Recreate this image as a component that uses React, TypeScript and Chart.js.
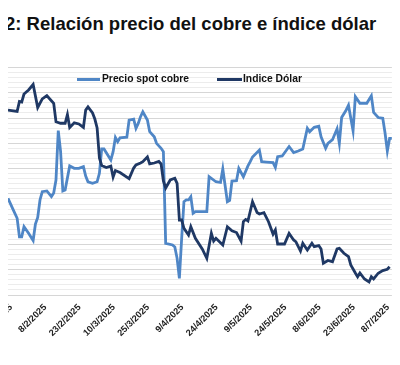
import React, { useEffect, useRef } from "react";
import { Chart, registerables } from "chart.js";

Chart.register(...registerables);

const TITLE = "2: Relación precio del cobre e índice dólar";
const SERIES_NAMES = ["Precio spot cobre", "Indice Dólar"];
const SERIES_COLORS = ["#4f86c6", "#1f3864"];

// date axis: first date, last date and label step (days)
const AXIS_START = "2025-01-24";
const AXIS_END = "2025-07-11";
const TICK_STEP_DAYS = 15;

// copper axis (hidden) and dollar axis (hidden)
const COPPER_AXIS = { min: 8200, max: 10000, major: 200 };
const DOLLAR_AXIS = { min: 96, max: 112.2 };

const COPPER_DATES = [
  "2025-01-24", "2025-01-26", "2025-01-28", "2025-01-29", "2025-01-30", "2025-01-31", "2025-02-02", "2025-02-04", "2025-02-05", "2025-02-06",
  "2025-02-07", "2025-02-08", "2025-02-10", "2025-02-12", "2025-02-13", "2025-02-14", "2025-02-15", "2025-02-16", "2025-02-17", "2025-02-18",
  "2025-02-20", "2025-02-22", "2025-02-24", "2025-02-26", "2025-02-27", "2025-02-28", "2025-03-02", "2025-03-04", "2025-03-05", "2025-03-06",
  "2025-03-07", "2025-03-10", "2025-03-11", "2025-03-12", "2025-03-13", "2025-03-14", "2025-03-17", "2025-03-18", "2025-03-20", "2025-03-21",
  "2025-03-22", "2025-03-23", "2025-03-24", "2025-03-26", "2025-03-27", "2025-03-29", "2025-03-30", "2025-04-01", "2025-04-02", "2025-04-03",
  "2025-04-06", "2025-04-07", "2025-04-08", "2025-04-09", "2025-04-10", "2025-04-11", "2025-04-12", "2025-04-13", "2025-04-14", "2025-04-15",
  "2025-04-16", "2025-04-19", "2025-04-21", "2025-04-22", "2025-04-25", "2025-04-27", "2025-04-28", "2025-04-30", "2025-05-01", "2025-05-02",
  "2025-05-04", "2025-05-05", "2025-05-07", "2025-05-09", "2025-05-10", "2025-05-11", "2025-05-14", "2025-05-15", "2025-05-17", "2025-05-20",
  "2025-05-21", "2025-05-22", "2025-05-24", "2025-05-27", "2025-05-29", "2025-05-31", "2025-06-02", "2025-06-04", "2025-06-05", "2025-06-07",
  "2025-06-09", "2025-06-10", "2025-06-12", "2025-06-13", "2025-06-15", "2025-06-17", "2025-06-18", "2025-06-19", "2025-06-21", "2025-06-22",
  "2025-06-24", "2025-06-25", "2025-06-27", "2025-06-30", "2025-07-02", "2025-07-03", "2025-07-05", "2025-07-07", "2025-07-08", "2025-07-09",
  "2025-07-10", "2025-07-11",
];
const COPPER = [
  8965, 8886, 8807, 8661, 8661, 8740, 8688, 8631, 8762, 8813,
  8952, 9017, 9023, 8978, 9007, 9110, 9501, 9339, 9023, 9031,
  9221, 9202, 9202, 9215, 9141, 9096, 9084, 9096, 9163, 9355,
  9355, 9268, 9334, 9446, 9413, 9444, 9448, 9584, 9592, 9519,
  9558, 9611, 9650, 9584, 9492, 9452, 9400, 9361, 9334, 8609,
  8596, 8580, 8490, 8332, 8649, 8938, 8952, 8952, 8978, 8846,
  8859, 8859, 8859, 9136, 9096, 9090, 9197, 8938, 8948, 9102,
  9104, 9202, 9136, 9221, 9255, 9292, 9347, 9255, 9252, 9248,
  9210, 9294, 9300, 9375, 9327, 9339, 9355, 9519, 9492, 9527,
  9535, 9452, 9361, 9400, 9429, 9515, 9400, 9604, 9664, 9701,
  9499, 9769, 9717, 9717, 9776, 9644, 9604, 9598, 9482, 9339,
  9440, 9440,
];

const DOLLAR_DATES = [
  "2025-01-24", "2025-01-28", "2025-01-29", "2025-01-30", "2025-01-31", "2025-02-02", "2025-02-04", "2025-02-06", "2025-02-08", "2025-02-10",
  "2025-02-11", "2025-02-13", "2025-02-14", "2025-02-16", "2025-02-18", "2025-02-19", "2025-02-20", "2025-02-22", "2025-02-24", "2025-02-26",
  "2025-02-27", "2025-02-28", "2025-03-02", "2025-03-03", "2025-03-04", "2025-03-05", "2025-03-06", "2025-03-08", "2025-03-10", "2025-03-11",
  "2025-03-12", "2025-03-14", "2025-03-18", "2025-03-20", "2025-03-21", "2025-03-23", "2025-03-24", "2025-03-26", "2025-03-27", "2025-03-29",
  "2025-03-31", "2025-04-01", "2025-04-02", "2025-04-03", "2025-04-05", "2025-04-07", "2025-04-08", "2025-04-09", "2025-04-10", "2025-04-11",
  "2025-04-13", "2025-04-14", "2025-04-16", "2025-04-19", "2025-04-21", "2025-04-23", "2025-04-24", "2025-04-25", "2025-04-28", "2025-04-30",
  "2025-05-02", "2025-05-04", "2025-05-06", "2025-05-07", "2025-05-08", "2025-05-09", "2025-05-11", "2025-05-13", "2025-05-14", "2025-05-16",
  "2025-05-18", "2025-05-20", "2025-05-21", "2025-05-22", "2025-05-25", "2025-05-27", "2025-05-29", "2025-05-30", "2025-06-01", "2025-06-02",
  "2025-06-04", "2025-06-06", "2025-06-07", "2025-06-09", "2025-06-10", "2025-06-11", "2025-06-13", "2025-06-15", "2025-06-17", "2025-06-18",
  "2025-06-20", "2025-06-22", "2025-06-23", "2025-06-25", "2025-06-26", "2025-06-27", "2025-06-29", "2025-07-01", "2025-07-02", "2025-07-03",
  "2025-07-05", "2025-07-07", "2025-07-09", "2025-07-10",
];
const DOLLAR = [
  109.17, 109.07, 109.78, 109.74, 110.31, 110.6, 110.99, 109.35, 109.96, 110.2,
  110.01, 109.65, 108.34, 108.23, 108.23, 108.85, 107.93, 108.26, 108.18, 107.93,
  109.17, 109.39, 108.96, 108.53, 107.89, 105.75, 105.22, 105.08, 105.18, 104.4,
  104.86, 104.72, 104.29, 105.04, 105.26, 105.4, 105.49, 105.83, 105.33, 105.4,
  105.51, 105.33, 104.12, 103.62, 104.19, 104.31, 103.95, 101.34, 101.34, 100.75,
  100.27, 100.86, 100.04, 99.28, 98.61, 100.39, 99.84, 100.04, 99.56, 100.86,
  100.57, 100.45, 99.84, 101.23, 101.38, 101.27, 102.64, 101.87, 101.77, 101.87,
  101.22, 100.34, 100.63, 99.63, 99.63, 100.39, 99.92, 99.79, 99.13, 99.68,
  99.2, 99.68, 99.44, 99.52, 99.28, 98.26, 98.46, 98.37, 99.28, 99.33,
  98.97, 98.73, 98.14, 97.57, 97.3, 97.57, 97.14, 96.93, 97.3, 97.14,
  97.55, 97.74, 97.83, 98.01,
];

const DAY_MS = 86400000;
const utc = (s: string) => {
  const [y, m, d] = s.split("-").map(Number);
  return Date.UTC(y, m - 1, d);
};
const START_MS = utc(AXIS_START);
const toDay = (s: string) => Math.round((utc(s) - START_MS) / DAY_MS);
const dayLabel = (v: number) => {
  const dt = new Date(START_MS + v * DAY_MS);
  return `${dt.getUTCDate()}/${dt.getUTCMonth() + 1}/${dt.getUTCFullYear()}`;
};

const FONT = "'Liberation Sans', Arial, sans-serif";

export default function App() {
  const ref = useRef<HTMLCanvasElement | null>(null);

  useEffect(() => {
    if (!ref.current) return;
    const chart = new Chart(ref.current, {
      type: "line",
      data: {
        datasets: [
          {
            label: SERIES_NAMES[0],
            data: COPPER_DATES.map((d, i) => ({ x: toDay(d), y: COPPER[i] })),
            borderColor: SERIES_COLORS[0],
            backgroundColor: SERIES_COLORS[0],
            borderWidth: 2.8,
            pointRadius: 0,
            tension: 0,
            yAxisID: "y",
            order: 1,
          },
          {
            label: SERIES_NAMES[1],
            data: DOLLAR_DATES.map((d, i) => ({ x: toDay(d), y: DOLLAR[i] })),
            borderColor: SERIES_COLORS[1],
            backgroundColor: SERIES_COLORS[1],
            borderWidth: 2.8,
            pointRadius: 0,
            tension: 0,
            yAxisID: "y1",
            order: 0,
          },
        ],
      },
      options: {
        responsive: false,
        animation: false,
        events: [],
        layout: { padding: { top: 17.5, right: 8, bottom: 0, left: 0 } },
        plugins: {
          legend: { display: false },
          title: { display: false },
          tooltip: { enabled: false },
        },
        scales: {
          x: {
            type: "linear",
            min: 0,
            max: toDay(AXIS_END),
            grid: { display: false, drawTicks: false },
            border: { display: false },
            ticks: {
              stepSize: TICK_STEP_DAYS,
              includeBounds: false,
              autoSkip: false,
              minRotation: 45,
              maxRotation: 45,
              padding: 7,
              labelOffset: 3,
              color: "#222",
              font: { family: FONT, size: 9.2, weight: "bold" },
              callback: (v) => dayLabel(Number(v)),
            },
            afterFit: (s: any) => {
              s.height = 62;
            },
          },
          y: {
            position: "left",
            min: COPPER_AXIS.min,
            max: COPPER_AXIS.max,
            ticks: { display: false, stepSize: COPPER_AXIS.major / 5 },
            border: { display: false },
            grid: {
              drawTicks: false,
              lineWidth: 1,
              color: (ctx: any) => (ctx.index % 5 === 0 ? "#d6d6d6" : "#ececec"),
            },
            afterFit: (s: any) => {
              s.width = 68;
            },
          },
          y1: {
            display: false,
            min: DOLLAR_AXIS.min,
            max: DOLLAR_AXIS.max,
          },
        },
      },
    });
    return () => chart.destroy();
  }, []);

  const legendText: React.CSSProperties = {
    position: "absolute",
    top: 74.3,
    fontFamily: FONT,
    fontWeight: "bold",
    fontSize: 10.3,
    lineHeight: 1,
    color: "#111",
    whiteSpace: "nowrap",
  };

  return (
    <div
      style={{
        position: "relative",
        width: 400,
        height: 357,
        marginLeft: -8,
        marginTop: -8,
        overflow: "hidden",
        background: "#fff",
      }}
    >
      <div
        style={{
          position: "absolute",
          left: 5,
          top: 15,
          fontFamily: FONT,
          fontWeight: "bold",
          fontSize: 18.5,
          lineHeight: 1,
          color: "#111",
          whiteSpace: "nowrap",
        }}
      >
        {TITLE}
      </div>
      <canvas
        ref={ref}
        width={460}
        height={307}
        style={{ position: "absolute", left: -60, top: 50, width: 460, height: 307 }}
      />
      <div style={{ position: "absolute", left: 77, top: 77.5, width: 23, height: 3, background: SERIES_COLORS[0] }} />
      <div style={{ ...legendText, left: 102 }}>{SERIES_NAMES[0]}</div>
      <div style={{ position: "absolute", left: 217, top: 77.5, width: 25, height: 3, background: SERIES_COLORS[1] }} />
      <div style={{ ...legendText, left: 243 }}>{SERIES_NAMES[1]}</div>
    </div>
  );
}
